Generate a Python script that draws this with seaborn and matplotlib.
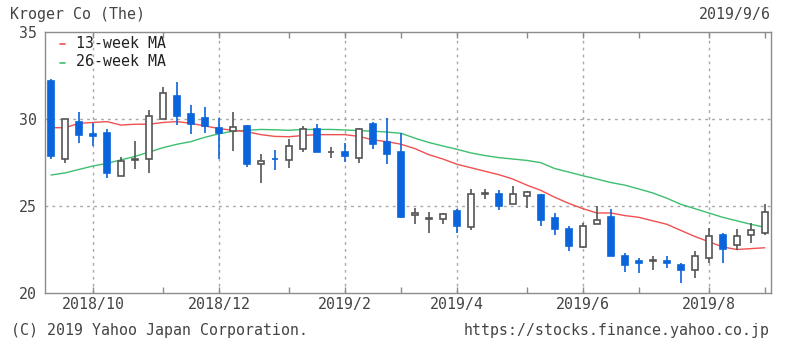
import matplotlib
matplotlib.use("Agg")
import matplotlib.pyplot as plt
import seaborn as sns
import numpy as np
import pandas as pd

# ---- data (weekly candles, 2018/9/10 .. 2019/9/2) ----
opens = [32.2, 27.7, 29.85, 29.15, 29.2, 26.7, 27.65, 27.7, 30.0, 31.3, 30.3, 30.05, 29.5,
         29.3, 29.6, 27.4, 27.72, 27.65, 28.3, 29.4, 28.08, 28.1, 27.75, 29.7, 28.7, 28.1,
         24.5, 24.28, 24.25, 24.7, 23.8, 25.68, 25.7, 25.1, 25.6, 25.65, 24.3, 23.7, 22.65,
         23.95, 24.35, 22.1, 21.85, 21.83, 21.85, 21.6, 21.3, 22.0, 23.35, 22.75, 23.35, 23.45]
closes = [27.85, 30.0, 29.1, 29.05, 26.9, 27.6, 27.7, 30.2, 31.5, 30.2, 29.7, 29.6, 29.2,
          29.55, 27.4, 27.6, 27.68, 28.45, 29.45, 28.1, 28.12, 27.85, 29.45, 28.55, 28.0, 24.35,
          24.6, 24.32, 24.55, 23.85, 25.7, 25.72, 25.0, 25.7, 25.8, 24.2, 23.7, 22.7, 23.85,
          24.2, 22.15, 21.6, 21.75, 21.87, 21.75, 21.35, 22.15, 23.3, 22.55, 23.3, 23.6, 24.65]
highs = [32.3, 30.0, 30.4, 29.75, 29.45, 27.8, 28.75, 30.5, 31.85, 32.1, 30.8, 30.7, 30.05,
         30.4, 29.65, 28.0, 28.2, 28.85, 29.6, 29.7, 28.4, 28.6, 29.5, 29.8, 30.05, 29.2,
         24.9, 24.65, 24.6, 24.85, 25.95, 25.95, 25.9, 26.15, 25.85, 25.7, 24.6, 23.85, 24.0,
         25.0, 24.8, 22.3, 22.0, 22.15, 22.1, 21.7, 22.4, 23.75, 23.45, 23.7, 24.05, 25.1]
lows = [27.7, 27.5, 28.6, 28.45, 26.6, 26.7, 27.15, 26.9, 30.0, 29.65, 29.15, 29.2, 27.7,
        28.15, 27.25, 26.35, 27.05, 27.2, 28.1, 28.1, 27.75, 27.55, 27.5, 28.25, 27.4, 24.3,
        23.95, 23.45, 23.95, 23.45, 23.6, 25.4, 24.75, 25.1, 24.9, 23.85, 23.35, 22.4, 22.6,
        23.95, 22.15, 21.2, 21.15, 21.3, 21.45, 20.6, 20.85, 21.7, 21.7, 22.5, 22.9, 23.35]
ma13 = [29.5, 29.5, 29.75, 29.8, 29.85, 29.65, 29.7, 29.7, 29.8, 29.85, 29.75, 29.6, 29.45,
        29.35, 29.27, 29.1, 29.0, 28.98, 29.05, 29.1, 29.1, 29.1, 29.0, 28.8, 28.7, 28.55,
        28.3, 27.95, 27.7, 27.4, 27.2, 27.0, 26.8, 26.55, 26.2, 25.9, 25.5, 25.15, 24.85,
        24.6, 24.6, 24.45, 24.35, 24.15, 23.95, 23.6, 23.25, 22.95, 22.65, 22.5, 22.55, 22.6]
ma26 = [26.78, 26.9, 27.1, 27.3, 27.45, 27.65, 27.85, 28.1, 28.35, 28.55, 28.7, 28.95, 29.15,
        29.3, 29.35, 29.4, 29.38, 29.35, 29.4, 29.4, 29.4, 29.37, 29.33, 29.3, 29.25, 29.18,
        28.9, 28.65, 28.45, 28.26, 28.05, 27.9, 27.78, 27.7, 27.62, 27.49, 27.15, 26.95, 26.74,
        26.55, 26.35, 26.2, 25.98, 25.75, 25.45, 25.1, 24.85, 24.6, 24.35, 24.15, 23.95, 23.78]
month_labels = ["2018/10", "2018/12", "2019/2", "2019/4", "2019/6", "2019/8"]
month_label_idx = [3, 12, 21, 29, 38, 47]
month_minor_idx = [8, 17, 25, 34, 42, 51]
y_ticks = [20, 25, 30, 35]

# ---- style ----
sns.set_style("white")
plt.rcParams["font.family"] = ["DejaVu Sans Mono"]
FS = 10.7
TXT = "#444444"
BLUE = "#0a64dc"
GRAY = "#555555"
RED = "#f05050"
GREEN = "#3cbf6e"
FRAME = "#8c8c8c"

df = pd.DataFrame({"i": np.arange(len(opens)), "open": opens, "close": closes,
                   "high": highs, "low": lows, "ma13": ma13, "ma26": ma26})

fig = plt.figure(figsize=(7.96, 3.49), dpi=100)
ax = fig.add_axes([45 / 796, 1 - 293 / 349, (771 - 45) / 796, (293 - 32) / 349])

ax.set_xlim(-0.43, 51.45)
ax.set_ylim(20, 35)

# grid
for k in month_label_idx:
    ax.axvline(k, color="#a8a8a8", lw=1.0, ls=(0, (2, 3)), zorder=0)
for yv in [25, 30]:
    ax.axhline(yv, color="#a8a8a8", lw=1.0, ls=(0, (2, 3)), zorder=0)

# moving averages
sns.lineplot(data=df, x="i", y="ma26", ax=ax, color=GREEN, lw=1.0, zorder=2,
             label="26-week MA", legend=False)
sns.lineplot(data=df, x="i", y="ma13", ax=ax, color=RED, lw=1.0, zorder=2,
             label="13-week MA", legend=False)

# candles
up = df["close"] >= df["open"]
colors = np.where(up, GRAY, BLUE)
ax.vlines(df["i"], df["low"], df["high"], colors=colors, lw=1.2, zorder=3)
bottom = np.minimum(df["open"], df["close"])
height = np.maximum(np.abs(df["close"] - df["open"]), 0.03)
face = np.where(up, "white", BLUE)
ax.bar(df["i"], height, bottom=bottom, width=0.40, color=face, edgecolor=colors,
       linewidth=1.2, zorder=4)

# axes appearance
for s in ax.spines.values():
    s.set_color(FRAME)
    s.set_linewidth(1.0)
ax.set_xlabel("")
ax.set_ylabel("")
ax.set_yticks(y_ticks)
ax.set_yticklabels([str(v) for v in y_ticks], fontsize=FS, color=TXT)
ax.tick_params(axis="y", direction="out", length=4, width=1, color=FRAME, pad=2)
ax.set_xticks(month_label_idx)
ax.set_xticklabels(month_labels, fontsize=FS, color=TXT)
ax.set_xticks(month_minor_idx, minor=True)
ax.tick_params(axis="x", which="both", direction="in", length=4, width=1, color=FRAME,
               top=True, bottom=True, pad=3)

# legend (manual text)
ax.plot([0.02, 0.028], [0.955, 0.955], transform=ax.transAxes, color=RED, lw=1.2)
ax.plot([0.02, 0.028], [0.883, 0.883], transform=ax.transAxes, color=GREEN, lw=1.2)
fig.text(76 / 796, 1 - 43 / 349, "13-week MA", fontsize=FS, color="#222222", va="center")
fig.text(76 / 796, 1 - 62 / 349, "26-week MA", fontsize=FS, color="#222222", va="center")

# header / footer text
fig.text(10 / 796, 1 - 15 / 349, "Kroger Co (The)", fontsize=FS, color=TXT, va="center")
fig.text(771 / 796, 1 - 15 / 349, "2019/9/6", fontsize=FS, color=TXT, va="center", ha="right")
fig.text(11 / 796, 1 - 330 / 349, "(C) 2019 Yahoo Japan Corporation.", fontsize=FS,
         color=TXT, va="center")
fig.text(770 / 796, 1 - 331 / 349, "https://stocks.finance.yahoo.co.jp", fontsize=FS,
         color=TXT, va="center", ha="right")

fig.savefig("out.png", dpi=100)
